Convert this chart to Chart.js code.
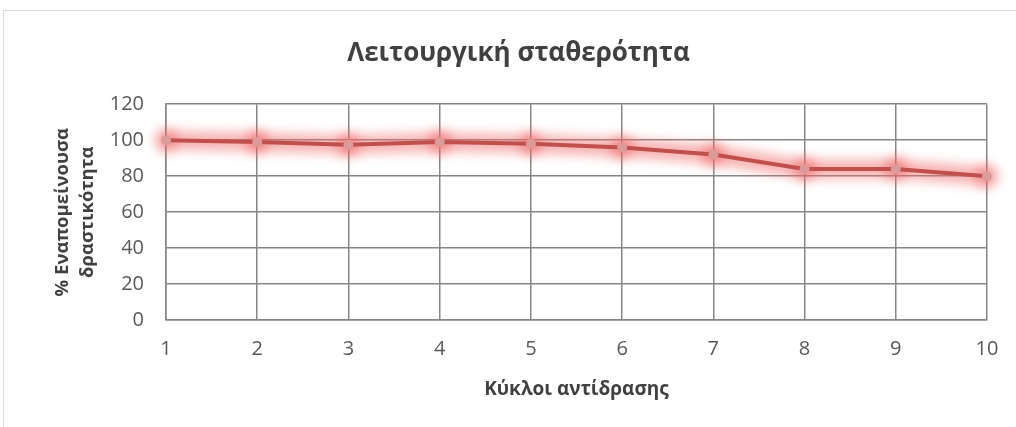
<!DOCTYPE html>
<html>
<head>
<meta charset="utf-8">
<script src="https://cdn.jsdelivr.net/npm/chart.js@4"></script>
<style>
  html, body { margin: 0; padding: 0; background: #fff; overflow: hidden; }
  #wrap { position: relative; width: 1016px; height: 427px; }
  #frame { position: absolute; left: 3px; top: 10px; width: 1100px; height: 500px; border: 1px solid #d9d9d9; }
  canvas { position: absolute; left: 0; top: 0; }
</style>
</head>
<body>
<div id="wrap">
  <div id="frame"></div>
  <canvas id="chart" width="1016" height="427"></canvas>
</div>
<script>
// dados do gráfico
const cycles = ['1', '2', '3', '4', '5', '6', '7', '8', '9', '10'];
const activity = [100, 99, 97.5, 99, 98, 96, 92, 84, 84, 80];
const yTicks = [0, 20, 40, 60, 80, 100, 120];

const FONT = '"Open Sans", "DejaVu Sans", sans-serif';
const GRID = '#868686';
const TXT = '#595959';

// soft glow around the line (Excel "glow" effect), follows the dataset's own points
const glow = {
  id: 'glow',
  beforeDatasetsDraw(chart) {
    const ctx = chart.ctx;
    const pts = chart.getDatasetMeta(0).data;
    ctx.save();
    ctx.filter = 'blur(6px)';
    ctx.strokeStyle = 'rgba(240, 110, 110, 0.55)';
    ctx.lineWidth = 18;
    ctx.lineJoin = 'round';
    ctx.beginPath();
    pts.forEach((p, i) => i ? ctx.lineTo(p.x, p.y) : ctx.moveTo(p.x, p.y));
    ctx.stroke();
    ctx.fillStyle = 'rgba(240, 100, 100, 0.6)';
    pts.forEach(p => { ctx.beginPath(); ctx.arc(p.x, p.y, 11, 0, Math.PI * 2); ctx.fill(); });
    ctx.restore();
  }
};

new Chart(document.getElementById('chart'), {
  type: 'line',
  data: {
    labels: cycles,
    datasets: [{
      data: activity,
      borderColor: '#c0504d',
      borderWidth: 4,
      pointRadius: 5,
      pointBackgroundColor: '#dc9a98',
      pointBorderWidth: 0,
      tension: 0
    }]
  },
  options: {
    responsive: false,
    animation: false,
    layout: { padding: { left: 50, right: 29, top: 38, bottom: 26 } },
    plugins: {
      legend: { display: false },
      tooltip: { enabled: false },
      title: {
        display: true,
        text: 'Λειτουργική σταθερότητα',
        color: '#404040',
        font: { family: FONT, size: 26, weight: 'bold' },
        padding: { top: 0, bottom: 35 }
      }
    },
    scales: {
      x: {
        offset: false,
        grid: { color: GRID, lineWidth: 1.5, drawTicks: false },
        border: { color: GRID, width: 1.5 },
        ticks: { color: TXT, padding: 17, font: { family: FONT, size: 20 }, maxRotation: 0 },
        title: {
          display: true,
          text: 'Κύκλοι αντίδρασης',
          color: '#404040',
          font: { family: FONT, size: 19, weight: 'bold' },
          padding: { top: 0, bottom: 0 }
        }
      },
      y: {
        min: 0,
        max: 120,
        afterBuildTicks(scale) { scale.ticks = yTicks.map(v => ({ value: v })); },
        afterFit(scale) { scale.width = 116; },
        grid: { color: GRID, lineWidth: 1.5, drawTicks: false },
        border: { color: GRID, width: 1.5 },
        ticks: { color: TXT, padding: 22, font: { family: FONT, size: 20 } },
        title: {
          display: true,
          text: ['% Εναπομείνουσα', 'δραστικότητα'],
          color: '#404040',
          font: { family: FONT, size: 18.5, weight: 'bold', lineHeight: 1.35 },
          padding: { top: 0, bottom: 0 }
        }
      }
    }
  },
  plugins: [glow]
});
</script>
</body>
</html>
